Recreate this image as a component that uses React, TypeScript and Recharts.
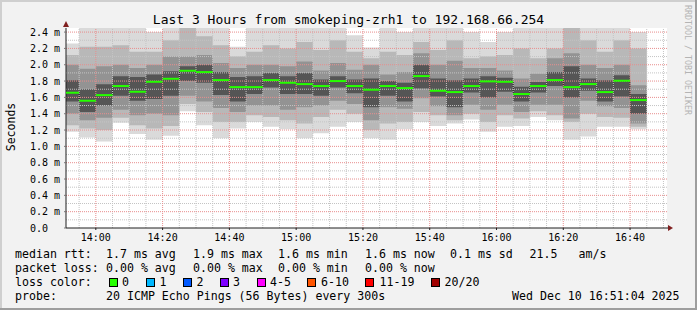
import React from "react";
import {
  ComposedChart,
  Area,
  Line,
  XAxis,
  YAxis,
  CartesianGrid,
  ReferenceLine,
} from "recharts";

// start of every 5 minute step; the last entry only closes the final step
const slotStarts = [
  "13:50", "13:55", "14:00", "14:05", "14:10", "14:15", "14:20", "14:25", "14:30",
  "14:35", "14:40", "14:45", "14:50", "14:55", "15:00", "15:05", "15:10", "15:15",
  "15:20", "15:25", "15:30", "15:35", "15:40", "15:45", "15:50", "15:55", "16:00",
  "16:05", "16:10", "16:15", "16:20", "16:25", "16:30", "16:35", "16:40", "16:45",
];

// smoke: sorted ping rtt quantiles per step (ms)
const pMin = [1.18, 1.11, 1.06, 1.29, 1.15, 1.08, 1.13, 1.43, 1.26, 1.10, 1.22, 1.30, 1.24, 1.21, 1.10, 1.16, 1.24, 1.30, 1.10, 1.08, 1.21, 1.30, 1.25, 1.28, 1.33, 1.18, 1.24, 1.25, 1.36, 1.32, 1.08, 1.12, 1.24, 1.24, 1.21];
const p10 = [1.26, 1.22, 1.20, 1.35, 1.26, 1.22, 1.25, 1.52, 1.42, 1.30, 1.30, 1.38, 1.36, 1.32, 1.28, 1.36, 1.45, 1.40, 1.20, 1.28, 1.30, 1.42, 1.38, 1.32, 1.40, 1.30, 1.38, 1.34, 1.43, 1.38, 1.30, 1.40, 1.36, 1.35, 1.24];
const p25 = [1.40, 1.32, 1.35, 1.45, 1.38, 1.40, 1.38, 1.62, 1.55, 1.47, 1.42, 1.50, 1.50, 1.45, 1.48, 1.50, 1.56, 1.52, 1.32, 1.48, 1.46, 1.59, 1.49, 1.38, 1.51, 1.45, 1.51, 1.42, 1.51, 1.51, 1.34, 1.56, 1.49, 1.47, 1.28];
const p40 = [1.55, 1.42, 1.50, 1.62, 1.56, 1.58, 1.62, 1.80, 1.78, 1.63, 1.55, 1.64, 1.72, 1.64, 1.64, 1.62, 1.72, 1.65, 1.48, 1.62, 1.55, 1.71, 1.61, 1.48, 1.66, 1.60, 1.67, 1.55, 1.66, 1.74, 1.60, 1.68, 1.55, 1.61, 1.40];
const median = [1.657, 1.559, 1.628, 1.739, 1.669, 1.791, 1.828, 1.926, 1.910, 1.812, 1.726, 1.726, 1.812, 1.779, 1.763, 1.739, 1.800, 1.739, 1.694, 1.739, 1.714, 1.861, 1.681, 1.665, 1.739, 1.796, 1.791, 1.641, 1.739, 1.812, 1.726, 1.763, 1.665, 1.804, 1.567];
const p60 = [1.81, 1.70, 1.76, 1.86, 1.85, 1.88, 1.92, 1.98, 2.00, 1.91, 1.85, 1.86, 1.90, 1.86, 1.90, 1.82, 1.86, 1.82, 1.83, 1.80, 1.78, 2.00, 1.83, 1.81, 1.83, 1.86, 1.84, 1.73, 1.79, 1.91, 1.98, 1.83, 1.81, 1.87, 1.64];
const p75 = [2.00, 1.95, 1.98, 2.00, 1.96, 2.00, 2.10, 2.10, 2.12, 2.02, 1.96, 2.00, 2.00, 1.98, 2.04, 1.93, 2.02, 1.94, 2.00, 1.88, 1.91, 2.14, 2.00, 2.05, 1.96, 1.96, 1.93, 1.83, 1.89, 2.08, 2.14, 2.00, 1.96, 2.00, 1.75];
const p90 = [2.12, 2.22, 2.22, 2.24, 2.16, 2.16, 2.30, 2.50, 2.35, 2.24, 2.10, 2.16, 2.24, 2.20, 2.28, 2.18, 2.30, 2.16, 2.08, 2.16, 2.12, 2.28, 2.18, 2.30, 2.08, 2.10, 2.12, 2.20, 2.08, 2.20, 2.50, 2.30, 2.16, 2.30, 2.20];
const pMax = [2.26, 2.50, 2.50, 2.50, 2.50, 2.40, 2.50, 2.60, 2.60, 2.45, 2.22, 2.50, 2.55, 2.50, 2.50, 2.50, 2.50, 2.36, 2.21, 2.50, 2.40, 2.55, 2.55, 2.55, 2.40, 2.28, 2.40, 2.50, 2.50, 2.50, 2.60, 2.55, 2.50, 2.55, 2.40];

const xTickLabels = ["14:00", "14:20", "14:40", "15:00", "15:20", "15:40", "16:00", "16:20", "16:40"];
const xMinorLabels = [
  "13:55", "14:05", "14:10", "14:15", "14:25", "14:30", "14:35", "14:45", "14:50",
  "14:55", "15:05", "15:10", "15:15", "15:25", "15:30", "15:35", "15:45", "15:50",
  "15:55", "16:05", "16:10", "16:15", "16:25", "16:30", "16:35", "16:45", "16:50",
];
const yTicks = [0, 0.2, 0.4, 0.6, 0.8, 1.0, 1.2, 1.4, 1.6, 1.8, 2.0, 2.2, 2.4];
const yMinor = [0.1, 0.3, 0.5, 0.7, 0.9, 1.1, 1.3, 1.5, 1.7, 1.9, 2.1, 2.3];

const lossColors = [
  { label: "0", color: "#26ff00" },
  { label: "1", color: "#00b8ff" },
  { label: "2", color: "#0059ff" },
  { label: "3", color: "#7e00ff" },
  { label: "4-5", color: "#ff00ff" },
  { label: "6-10", color: "#ff5500" },
  { label: "11-19", color: "#ff0000" },
  { label: "20/20", color: "#a10000" },
];

// 3 hour window ending Wed Dec 10 16:51:04 2025 (minutes after 13:00)
const X_START = 51 + 4 / 60;
const X_END = 231 + 4 / 60;

const MONO = "'DejaVu Sans Mono', monospace";
const GRID = "#c4c4c4";
const MGRID = "#e88e8e";

const toMin = (s: string) => {
  const [h, m] = s.split(":").map(Number);
  return (h - 13) * 60 + m;
};
const fmtTime = (v: number) => {
  const h = 13 + Math.floor(v / 60);
  const m = Math.round(v % 60);
  return `${h}:${String(m).padStart(2, "0")}`;
};

const last = median.length - 1;
const data = slotStarts.map((s, i) => {
  const k = Math.min(i, last);
  return {
    t: toMin(s),
    band1: [pMin[k], pMax[k]],
    band2: [p10[k], p90[k]],
    band3: [p25[k], p75[k]],
    band4: [p40[k], p60[k]],
    median: median[k],
  };
});

function YTick(props: any) {
  const { x, y, payload } = props;
  const v = payload.value as number;
  return (
    <text x={x} y={y} dy="0.36em" textAnchor="start" fontFamily={MONO} fontSize={10} fill="#000">
      {v === 0 ? "0.0" : `${v.toFixed(1)} m`}
    </text>
  );
}

const legendRows = [
  { y: 258, items: [
    { x: 15, s: "median rtt:" }, { x: 106, s: "1.7 ms avg" }, { x: 193, s: "1.9 ms max" },
    { x: 278, s: "1.6 ms min" }, { x: 365, s: "1.6 ms now" }, { x: 450, s: "0.1 ms sd" },
    { x: 529.5, s: "21.5" }, { x: 578.5, s: "am/s" },
  ] },
  { y: 272, items: [
    { x: 15, s: "packet loss:" }, { x: 106, s: "0.00 % avg" }, { x: 193, s: "0.00 % max" },
    { x: 278, s: "0.00 % min" }, { x: 365, s: "0.00 % now" },
  ] },
  { y: 300, items: [
    { x: 15, s: "probe:" }, { x: 106, s: "20 ICMP Echo Pings (56 Bytes) every 300s" },
    { x: 512, s: "Wed Dec 10 16:51:04 2025" },
  ] },
];
const boxX = [109, 146, 183, 220, 257, 307, 365, 431];
const boxLabelX = [122, 159.5, 196.5, 233, 270, 321, 379.5, 444.5];

export default function App() {
  return (
    <div style={{ position: "fixed", left: 0, top: 0, width: 697, height: 310, background: "#f2f2f2" }}>
      <ComposedChart
        width={697}
        height={310}
        data={data}
        margin={{ top: 28, right: 30, left: 6, bottom: 62 }}
      >
        <CartesianGrid fill="#ffffff" stroke="none" horizontal={false} vertical={false} />
        <XAxis
          dataKey="t"
          type="number"
          domain={[X_START, X_END]}
          allowDataOverflow
          ticks={xTickLabels.map(toMin)}
          interval={0}
          tickFormatter={fmtTime}
          height={20}
          tickSize={2}
          tickMargin={4}
          tick={{ fontFamily: MONO, fontSize: 10, fill: "#000" }}
          tickLine={{ stroke: "#1f1f1f" }}
          axisLine={{ stroke: "#1f1f1f" }}
        />
        <YAxis
          type="number"
          domain={[0, 2.45]}
          allowDataOverflow
          ticks={yTicks}
          interval={0}
          width={60}
          tickSize={2}
          tickMargin={34}
          tick={<YTick />}
          tickLine={{ stroke: "#777" }}
          axisLine={{ stroke: "#1f1f1f" }}
        />

        <Area dataKey="band1" type="stepAfter" stroke="none" fill="#dadada" fillOpacity={1} dot={false} activeDot={false} isAnimationActive={false} />
        <Area dataKey="band2" type="stepAfter" stroke="none" fill="#b8b8b8" fillOpacity={1} dot={false} activeDot={false} isAnimationActive={false} />
        <Area dataKey="band3" type="stepAfter" stroke="none" fill="#939393" fillOpacity={1} dot={false} activeDot={false} isAnimationActive={false} />
        <Area dataKey="band4" type="stepAfter" stroke="none" fill="#555555" fillOpacity={1} dot={false} activeDot={false} isAnimationActive={false} />

        {/* grid on top of the smoke, like rrdtool */}
        {yMinor.map((v) => (
          <ReferenceLine key={`ym${v}`} y={v} stroke={GRID} strokeDasharray="1 1" zIndex={450} />
        ))}
        {xMinorLabels.map((s) => (
          <ReferenceLine key={`xm${s}`} x={toMin(s)} stroke={GRID} strokeDasharray="1 1" zIndex={450} />
        ))}
        {yTicks.filter((v) => v > 0).map((v) => (
          <ReferenceLine key={`yM${v}`} y={v} stroke={MGRID} strokeDasharray="1 1" zIndex={460} />
        ))}
        {xTickLabels.map((s) => (
          <ReferenceLine key={`xM${s}`} x={toMin(s)} stroke={MGRID} strokeDasharray="1 1" zIndex={460} />
        ))}

        <Line dataKey="median" type="stepAfter" stroke="#202020" strokeWidth={1} strokeDasharray="1 1" dot={false} activeDot={false} isAnimationActive={false} />
        {median.map((m, i) => (
          <ReferenceLine
            key={`med${i}`}
            segment={[{ x: toMin(slotStarts[i]), y: m }, { x: toMin(slotStarts[i + 1]), y: m }]}
            stroke="#26ff00"
            strokeWidth={2}
            ifOverflow="hidden"
            zIndex={700}
          />
        ))}
      </ComposedChart>

      <svg width={697} height={310} style={{ position: "absolute", left: 0, top: 0, pointerEvents: "none" }}>
        <rect x={0} y={0} width={697} height={2} fill="#cfcfcf" />
        <rect x={0} y={0} width={2} height={310} fill="#cfcfcf" />
        <rect x={695} y={0} width={2} height={310} fill="#9e9e9e" />
        <rect x={0} y={308} width={697} height={2} fill="#9e9e9e" />

        <text x={348.5} y={24} textAnchor="middle" fontFamily={MONO} fontSize={13} fill="#000">
          Last 3 Hours from smokeping-zrh1 to 192.168.66.254
        </text>
        <text x={15} y={127} transform="rotate(-90 15 127)" textAnchor="middle" fontFamily={MONO} fontSize={11.5} fill="#000">
          Seconds
        </text>
        <text x={684.5} y={5} transform="rotate(90 684.5 5)" textAnchor="start" fontFamily={MONO} fontSize={8.3} fill="#b4b4b4">
          RRDTOOL / TOBI OETIKER
        </text>

        {/* axis arrows */}
        <line x1={667} y1={228} x2={669} y2={228} stroke="#1f1f1f" />
        <polygon points="668,225 673,228 668,231" fill="#801f1f" />
        <polygon points="63,27 66,21 69,27" fill="#801f1f" />

        {legendRows.map((row) =>
          row.items.map((it) => (
            <text key={`${row.y}-${it.x}`} x={it.x} y={row.y} fontFamily={MONO} fontSize={11.6} fill="#000">
              {it.s}
            </text>
          ))
        )}
        <text x={15} y={286} fontFamily={MONO} fontSize={11.6} fill="#000">loss color:</text>
        {lossColors.map((c, i) => (
          <g key={c.label}>
            <rect x={boxX[i] + 0.5} y={278.5} width={8} height={8} fill={c.color} stroke="#000" />
            <text x={boxLabelX[i]} y={286} fontFamily={MONO} fontSize={11.6} fill="#000">{c.label}</text>
          </g>
        ))}
      </svg>
    </div>
  );
}
